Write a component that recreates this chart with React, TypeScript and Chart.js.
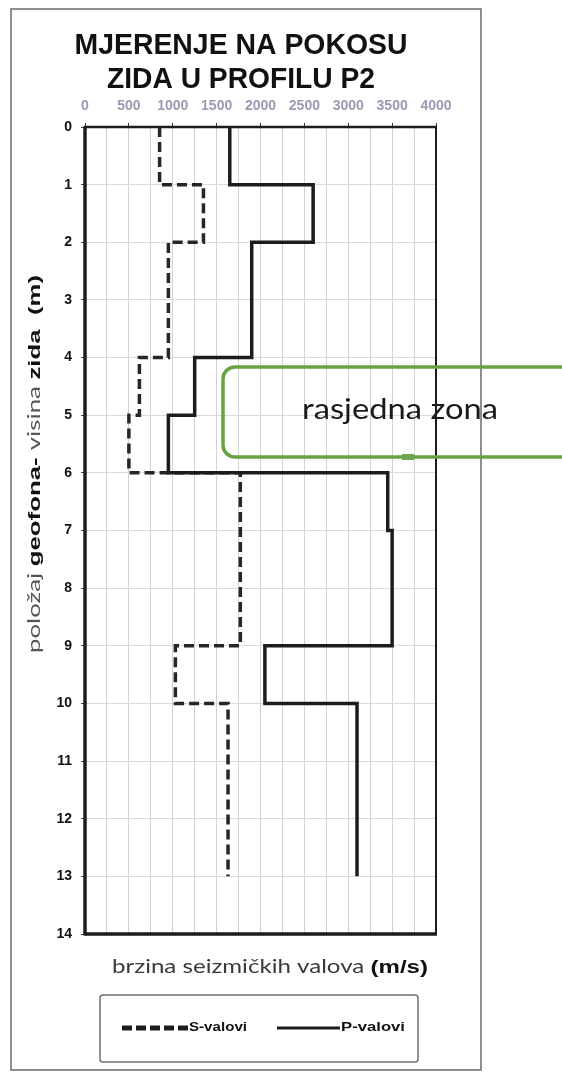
import React, { useEffect, useRef } from 'react';
import { Chart, registerables } from 'chart.js';

Chart.register(...registerables);

// ---- data ----
const layerTop = [0, 1, 2, 4, 5, 6, 7, 9, 10];
const layerBottom = [1, 2, 4, 5, 6, 7, 9, 10, 13];
const pWaveVelocity = [1650, 2600, 1900, 1250, 950, 3450, 3500, 2050, 3100];
const sWaveVelocity = [850, 1350, 950, 620, 500, 1770, 1770, 1030, 1630];
const seriesLabels = ['S-valovi', 'P-valovi'];
const velocityMin = 0;
const velocityMax = 4000;
const velocityMinorStep = 250;
const velocityLabelStep = 500;
const depthMin = 0;
const depthMax = 14;
const depthStep = 1;
const titleLines = ['MJERENJE NA POKOSU', 'ZIDA U PROFILU P2'];
const xAxisTitle = ['brzina seizmičkih valova ', '(m/s)'];
const yAxisTitle = ['položaj ', 'geofona- ', 'visina ', 'zida ', ' (m)'];
const annotationText = 'rasjedna zona';

function stepProfile(vel: number[]) {
  const pts: { x: number; y: number }[] = [];
  vel.forEach((v, i) => {
    pts.push({ x: v, y: layerTop[i] });
    pts.push({ x: v, y: layerBottom[i] });
  });
  return pts;
}

type Seg = { text: string; font: string; color: string };

function drawSegments(ctx: CanvasRenderingContext2D, segs: Seg[], targetWidth: number) {
  let total = 0;
  const widths = segs.map((s) => {
    ctx.font = s.font;
    const w = ctx.measureText(s.text).width;
    total += w;
    return w;
  });
  const k = targetWidth / total;
  ctx.save();
  ctx.scale(k, 1);
  let x = 0;
  segs.forEach((s, i) => {
    ctx.font = s.font;
    ctx.fillStyle = s.color;
    ctx.fillText(s.text, x, 0);
    x += widths[i];
  });
  ctx.restore();
}

const decorPlugin = {
  id: 'decor',
  beforeDraw(chart: any) {
    const ctx = chart.ctx as CanvasRenderingContext2D;
    ctx.save();
    ctx.fillStyle = '#ffffff';
    ctx.fillRect(0, 0, chart.width, chart.height);
    ctx.restore();
  },
  beforeDatasetsDraw(chart: any) {
    const ctx = chart.ctx as CanvasRenderingContext2D;
    const a = chart.chartArea;
    ctx.save();
    ctx.strokeStyle = '#1c1c1c';
    const seg = (x1: number, y1: number, x2: number, y2: number, w: number) => {
      ctx.lineWidth = w;
      ctx.beginPath();
      ctx.moveTo(x1, y1);
      ctx.lineTo(x2, y2);
      ctx.stroke();
    };
    seg(a.left - 1.5, a.top, a.right + 1, a.top, 2.5);
    seg(a.left, a.top, a.left, a.bottom + 1.5, 3.5);
    seg(a.right, a.top, a.right, a.bottom, 2);
    seg(a.left, a.bottom, a.right + 1, a.bottom, 3.5);
    ctx.restore();
  },
  afterDraw(chart: any) {
    const ctx = chart.ctx as CanvasRenderingContext2D;
    ctx.save();

    // outer frame
    ctx.strokeStyle = '#6a6a6a';
    ctx.lineWidth = 1.5;
    ctx.strokeRect(11, 9, 470, 1061);

    // title
    ctx.textBaseline = 'alphabetic';
    const titleWidths = [333, 268];
    const titleBase = [54, 88];
    titleLines.forEach((t, i) => {
      ctx.save();
      ctx.translate(241 - titleWidths[i] / 2, titleBase[i]);
      drawSegments(ctx, [{ text: t, font: 'bold 30px "Liberation Sans", Arial, sans-serif', color: '#111' }], titleWidths[i]);
      ctx.restore();
    });

    // x axis title
    ctx.save();
    ctx.translate(112, 973);
    drawSegments(
      ctx,
      [
        { text: xAxisTitle[0], font: '19px Lato, "Open Sans", sans-serif', color: '#3a3a3a' },
        { text: xAxisTitle[1], font: 'bold 19px "Liberation Sans", Arial, sans-serif', color: '#111' },
      ],
      316
    );
    ctx.restore();

    // y axis title (rotated)
    ctx.save();
    ctx.translate(35, 653);
    ctx.rotate(-Math.PI / 2);
    ctx.textBaseline = 'middle';
    const normalF = '17px Lato, "Open Sans", sans-serif';
    const boldF = 'bold 17px "Liberation Sans", Arial, sans-serif';
    drawSegments(
      ctx,
      [
        { text: yAxisTitle[0], font: normalF, color: '#555' },
        { text: yAxisTitle[1], font: boldF, color: '#111' },
        { text: yAxisTitle[2], font: normalF, color: '#555' },
        { text: yAxisTitle[3], font: boldF, color: '#111' },
        { text: yAxisTitle[4], font: boldF, color: '#111' },
      ],
      378
    );
    ctx.restore();

    // legend
    ctx.strokeStyle = '#707070';
    ctx.lineWidth = 1.5;
    ctx.beginPath();
    (ctx as any).roundRect(100, 995, 318, 67, 3);
    ctx.stroke();
    const ly = 1028;
    // S (dashed)
    ctx.strokeStyle = '#1c1c1c';
    ctx.lineWidth = 5;
    ctx.setLineDash([10, 4]);
    ctx.beginPath();
    ctx.moveTo(122, ly);
    ctx.lineTo(188, ly);
    ctx.stroke();
    ctx.setLineDash([]);
    ctx.lineWidth = 3;
    ctx.beginPath();
    ctx.moveTo(277, ly);
    ctx.lineTo(340, ly);
    ctx.stroke();
    ctx.textBaseline = 'middle';
    ctx.save();
    ctx.translate(189, ly);
    drawSegments(ctx, [{ text: chart.data.datasets[0].label, font: 'bold 12px "Liberation Sans", Arial, sans-serif', color: '#111' }], 58);
    ctx.restore();
    ctx.save();
    ctx.translate(341, ly);
    drawSegments(ctx, [{ text: chart.data.datasets[1].label, font: 'bold 12px "Liberation Sans", Arial, sans-serif', color: '#111' }], 64);
    ctx.restore();

    // annotation
    ctx.strokeStyle = '#66a343';
    ctx.lineWidth = 3.5;
    ctx.beginPath();
    (ctx as any).roundRect(223, 367, 370, 90, 12);
    ctx.stroke();
    ctx.fillStyle = '#6aa84f';
    ctx.fillRect(402, 454, 12, 6);
    ctx.textBaseline = 'alphabetic';
    ctx.save();
    ctx.translate(302, 419);
    drawSegments(ctx, [{ text: annotationText, font: '28px Lato, "Open Sans", sans-serif', color: '#1a1a1a' }], 196);
    ctx.restore();

    ctx.restore();
  },
};

export default function App() {
  const ref = useRef<HTMLCanvasElement | null>(null);

  useEffect(() => {
    if (!ref.current) return;
    const chart = new Chart(ref.current, {
      type: 'scatter',
      data: {
        datasets: [
          {
            label: seriesLabels[0],
            data: stepProfile(sWaveVelocity),
            showLine: true,
            borderColor: '#262626',
            borderWidth: 3.5,
            borderDash: [10, 5],
            pointRadius: 0,
            order: 2,
          },
          {
            label: seriesLabels[1],
            data: stepProfile(pWaveVelocity),
            showLine: true,
            borderColor: '#1c1c1c',
            borderWidth: 3.5,
            pointRadius: 0,
            order: 1,
          },
        ],
      },
      options: {
        animation: false,
        responsive: false,
        devicePixelRatio: 1,
        layout: { padding: { left: 0, top: 0, right: 126, bottom: 138 } },
        plugins: {
          legend: { display: false },
          title: { display: false },
          tooltip: { enabled: false },
        },
        scales: {
          x: {
            type: 'linear',
            position: 'top',
            min: velocityMin,
            max: velocityMax,
            afterFit: (s: any) => {
              s.height = 127;
            },
            border: { display: false },
            grid: {
              color: '#d2d2d2',
              lineWidth: 1,
              drawTicks: true,
              tickLength: 4,
              tickColor: (c: any) => (c.tick && c.tick.value % velocityLabelStep === 0 ? '#333' : 'rgba(0,0,0,0)'),
            },
            ticks: {
              stepSize: velocityMinorStep,
              autoSkip: false,
              maxRotation: 0,
              padding: 8,
              color: '#9a9ab3',
              font: { family: '"Liberation Sans", Arial, sans-serif', size: 14, weight: 'bold' },
              callback: (v: any) => (Number(v) % velocityLabelStep === 0 ? String(v) : ''),
            },
          },
          y: {
            type: 'linear',
            position: 'left',
            reverse: true,
            min: depthMin,
            max: depthMax,
            afterFit: (s: any) => {
              s.width = 85;
            },
            border: { display: false },
            grid: {
              color: '#dadada',
              lineWidth: 1,
              drawTicks: true,
              tickLength: 4,
              tickColor: '#444',
            },
            ticks: {
              stepSize: depthStep,
              autoSkip: false,
              padding: 9,
              color: '#111',
              font: { family: '"Liberation Sans", Arial, sans-serif', size: 14, weight: 'bold' },
            },
          },
        },
      },
      plugins: [decorPlugin],
    } as any);
    return () => chart.destroy();
  }, []);

  return (
    <div style={{ position: 'absolute', left: 0, top: 0, width: 562, height: 1072 }}>
      <canvas ref={ref} width={562} height={1072} style={{ display: 'block', width: 562, height: 1072 }} />
    </div>
  );
}
